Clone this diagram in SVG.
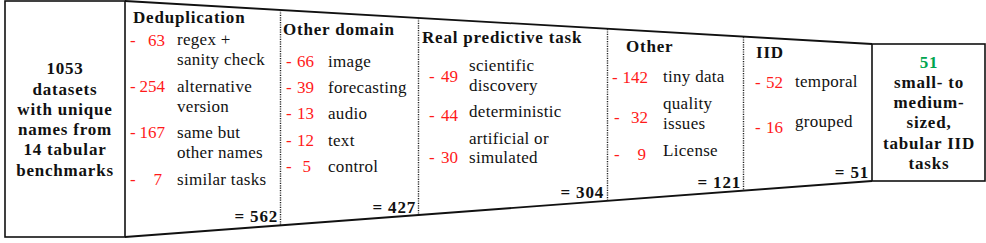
<svg xmlns="http://www.w3.org/2000/svg" width="986" height="243" viewBox="0 0 986 243">
<style>
text{font-family:'Liberation Serif','DejaVu Serif',serif;font-size:17px;fill:#111;letter-spacing:0.3px}
.b{font-weight:bold;letter-spacing:0.8px}
.r{fill:#ff1a1a;letter-spacing:0}
.e{text-anchor:end}
.m{text-anchor:middle}
.g{fill:#00a54f}
.edge{stroke:#111;stroke-width:1.8;fill:none}
.sep{stroke:#222;stroke-width:1.4;stroke-dasharray:1.2 1.2;fill:none}
.box{stroke:#111;stroke-width:1.6;fill:#fff}
</style>
<rect width="986" height="243" fill="#fff"/>
<g id="connectors">
<line class="edge" x1="125" y1="1" x2="872" y2="44"/>
<line class="edge" x1="125" y1="237" x2="872" y2="181"/>
<line class="sep" x1="280.5" y1="10" x2="280.5" y2="226"/>
<line class="sep" x1="418.5" y1="18" x2="418.5" y2="215"/>
<line class="sep" x1="607.5" y1="29" x2="607.5" y2="201"/>
<line class="sep" x1="743.5" y1="37" x2="743.5" y2="191"/>
</g>
<g id="start">
<rect class="box" x="5" y="1" width="120" height="236"/>
<text class="b m" x="65" y="74">1053</text>
<text class="b m" x="65" y="95">datasets</text>
<text class="b m" x="65" y="115">with unique</text>
<text class="b m" x="65" y="135">names from</text>
<text class="b m" x="65" y="155">14 tabular</text>
<text class="b m" x="65" y="176">benchmarks</text>
</g>
<g id="dedup">
<text class="b" x="133" y="23">Deduplication</text>
<text class="r" x="130" y="46">-</text><text class="r e" x="165" y="46">63</text>
<text x="177" y="45">regex +</text><text x="177" y="65">sanity check</text>
<text class="r" x="130" y="92">-</text><text class="r e" x="165" y="92">254</text>
<text x="177" y="92">alternative</text><text x="177" y="112">version</text>
<text class="r" x="130" y="138">-</text><text class="r e" x="165" y="138">167</text>
<text x="177" y="138">same but</text><text x="177" y="158">other names</text>
<text class="r" x="130" y="185">-</text><text class="r e" x="162" y="185">7</text>
<text x="177" y="185">similar tasks</text>
<text class="b e" x="278" y="222">= 562</text>
</g>
<g id="domain">
<text class="b" x="283" y="35">Other domain</text>
<text class="r" x="286" y="67">-</text><text class="r e" x="314" y="67">66</text><text x="328" y="67">image</text>
<text class="r" x="286" y="93">-</text><text class="r e" x="314" y="93">39</text><text x="328" y="93">forecasting</text>
<text class="r" x="286" y="119">-</text><text class="r e" x="314" y="119">13</text><text x="328" y="119">audio</text>
<text class="r" x="286" y="146">-</text><text class="r e" x="314" y="146">12</text><text x="328" y="146">text</text>
<text class="r" x="286" y="172">-</text><text class="r e" x="311" y="172">5</text><text x="328" y="172">control</text>
<text class="b e" x="416" y="213">= 427</text>
</g>
<g id="predictive">
<text class="b" x="422" y="43">Real predictive task</text>
<text class="r" x="429" y="82">-</text><text class="r e" x="458" y="82">49</text>
<text x="469" y="71">scientific</text><text x="469" y="91">discovery</text>
<text class="r" x="429" y="121">-</text><text class="r e" x="458" y="121">44</text>
<text x="469" y="117">deterministic</text>
<text class="r" x="429" y="163">-</text><text class="r e" x="458" y="163">30</text>
<text x="469" y="144">artificial or</text><text x="469" y="163">simulated</text>
<text class="b e" x="604" y="198">= 304</text>
</g>
<g id="other">
<text class="b" x="626" y="52">Other</text>
<text class="r" x="612" y="83">-</text><text class="r e" x="648" y="83">142</text><text x="663" y="82">tiny data</text>
<text class="r" x="614" y="123">-</text><text class="r e" x="648" y="123">32</text>
<text x="663" y="109">quality</text><text x="663" y="129">issues</text>
<text class="r" x="614" y="160">-</text><text class="r e" x="646" y="160">9</text><text x="663" y="156">License</text>
<text class="b e" x="741" y="188">= 121</text>
</g>
<g id="iid">
<text class="b" x="756" y="58">IID</text>
<text class="r" x="755" y="88">-</text><text class="r e" x="783" y="88">52</text><text x="795" y="87">temporal</text>
<text class="r" x="755" y="133">-</text><text class="r e" x="783" y="133">16</text><text x="795" y="127">grouped</text>
<text class="b e" x="869" y="178">= 51</text>
</g>
<g id="result">
<rect class="box" x="872" y="44" width="113" height="137"/>
<text class="b m g" x="929" y="68">51</text>
<text class="b m" x="929" y="88">small- to</text>
<text class="b m" x="929" y="108">medium-</text>
<text class="b m" x="929" y="128">sized,</text>
<text class="b m" x="929" y="149">tabular IID</text>
<text class="b m" x="929" y="169">tasks</text>
</g>
</svg>
